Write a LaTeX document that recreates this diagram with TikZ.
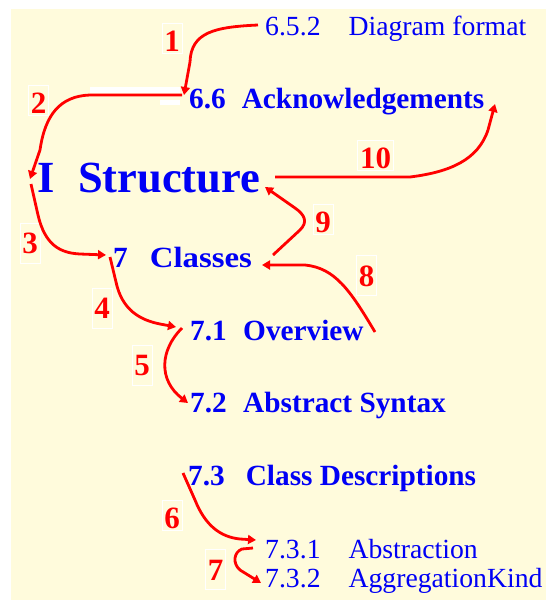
\documentclass[tikz,border=0pt]{standalone}
\usepackage{fontspec}
\setmainfont{Liberation Serif}
\usetikzlibrary{arrows.meta}
\definecolor{bgy}{RGB}{255,251,220}
\definecolor{hblue}{RGB}{0,0,245}
\definecolor{ared}{RGB}{255,0,0}
\begin{document}
\begin{tikzpicture}[x=1pt,y=-1pt,
  head/.style={anchor=base west,inner sep=0pt,text=hblue,font=\fontsize{27.7}{30}\selectfont},
  headb/.style={anchor=base west,inner sep=0pt,text=hblue,font=\fontsize{29.3}{30}\selectfont\bfseries},
  lab/.style={draw=white,line width=0.8pt,text=ared,font=\fontsize{31}{31}\selectfont\bfseries,inner xsep=2.25pt,inner ysep=1pt,text height=21pt,text depth=0pt,minimum height=40pt},
  labs/.style={lab,text height=26pt,inner ysep=2pt,minimum height=30pt},
  conn/.style={draw=ared,line width=2.8pt,-{Triangle[length=8pt,width=9pt]},line join=round}
]
\useasboundingbox (0,0) rectangle (546,600);
\fill[white] (0,0) rectangle (546,600);
\fill[bgy] (11,9) rectangle (546,600);
% white artefacts near 6.6
\fill[white] (90,87) rectangle (180,93);
\fill[white] (160,100) rectangle (180,105);

% headings
\node[head] (n652) at (265,35) {6.5.2\hspace{28pt}Diagram format};
\node[headb] (n66) at (189,108) {6.6\hspace{16pt}Acknowledgements};
\node[headb,font=\fontsize{44.5}{46}\selectfont\bfseries] (nI) at (37,192) {I\hspace{23.5pt}Structure};
\node[headb] (n7) at (113,267) {7\hspace{22pt}\scalebox{1.12}[1]{Classes}};
\node[headb] (n71) at (190,340) {7.1\hspace{16.4pt}Overview};
\node[headb] (n72) at (190,412) {7.2\hspace{16.4pt}Abstract Syntax};
\node[headb] (n73) at (188,485) {7.3\hspace{21pt}Class Descriptions};
\node[head] (n731) at (265,558) {7.3.1\hspace{28pt}Abstraction};
\node[head] (n732) at (265,587) {7.3.2\hspace{28pt}AggregationKind};

% step labels
\node[labs] (l1) at (172,38) {1};
\node[labs] (l2) at (38.5,100) {2};
\node[lab] (l3) at (30,243) {3};
\node[lab] (l4) at (102,308) {4};
\node[lab] (l5) at (142,365) {5};
\node[labs] (l6) at (172,515) {6};
\node[lab] (l7) at (215.5,569.5) {7};
\node[lab] (l8) at (366.5,275.5) {8};
\node[labs] (l9) at (323,219.5) {9};
\node[labs] (l10) at (375.5,155) {10};

% connector end points
\coordinate (a1s) at (258,25);  \coordinate (a1e) at (184,95);
\coordinate (a2s) at (182,95);  \coordinate (a2e) at (30,179);
\coordinate (a3s) at (31,184);  \coordinate (a3e) at (106,255);
\coordinate (a4s) at (110,257); \coordinate (a4e) at (176,327);
\coordinate (a5s) at (182,328); \coordinate (a5e) at (188,403);
\coordinate (a6s) at (183,473); \coordinate (a6e) at (256,540);
\coordinate (a7s) at (253,548); \coordinate (a7e) at (261,583);
\coordinate (a8s) at (375,332); \coordinate (a8e) at (262,265);
\coordinate (a9s) at (273,255); \coordinate (a9e) at (265,187);
\coordinate (a10s) at (275,177); \coordinate (a10e) at (495,104);

\draw[conn] (a1s) .. controls (215,27) and (191,32) .. (190,62) -- (a1e);
\draw[conn] (a2s) -- (90,95) .. controls (60,96) and (45,115) .. (40,150) -- (a2e);
\draw[conn] (a3s) -- (38,215) .. controls (45,245) and (60,253) .. (80,254) -- (a3e);
\draw[conn] (a4s) -- (116,282) .. controls (122,310) and (140,320) .. (160,324) -- (a4e);
\draw[conn] (a5s) .. controls (160,350) and (158,380) .. (a5e);
\draw[conn] (a6s) -- (195,500) .. controls (205,525) and (220,537) .. (240,539) -- (a6e);
\draw[conn] (a7s) -- (242,549) .. controls (234,552) and (232,563) .. (240,570) -- (a7e);
\draw[conn] (a8s) .. controls (350,290) and (335,268) .. (305,265) -- (a8e);
\draw[conn] (a9s) -- (300,230) .. controls (308,222) and (305,215) .. (295,208) -- (a9e);
\draw[conn] (a10s) -- (410,177) .. controls (450,172) and (478,160) .. (488,130) -- (a10e);
\end{tikzpicture}
\end{document}
